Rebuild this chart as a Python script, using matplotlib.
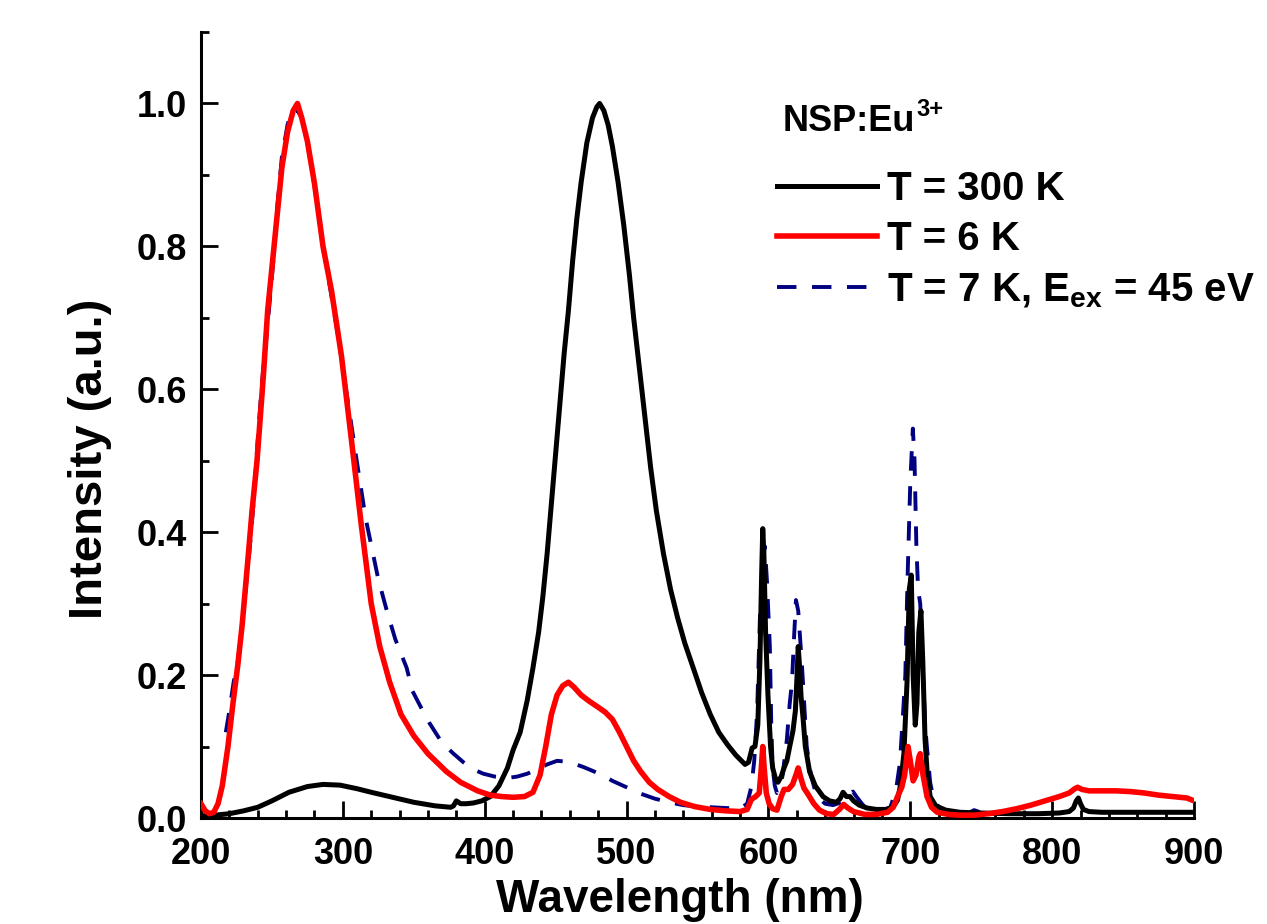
import numpy as np
import matplotlib
matplotlib.use("Agg")
import matplotlib.pyplot as plt
from matplotlib.ticker import MultipleLocator, FormatStrFormatter

plt.rcParams["font.family"] = ["Liberation Sans", "DejaVu Sans"]
plt.rcParams["font.weight"] = "bold"
plt.rcParams["mathtext.fontset"] = "custom"
plt.rcParams["mathtext.rm"] = "Liberation Sans:bold"
plt.rcParams["mathtext.bf"] = "Liberation Sans:bold"
plt.rcParams["mathtext.it"] = "Liberation Sans:bold"
plt.rcParams["mathtext.default"] = "bf"

# T = 300 K
wl_300 = [200, 210, 220, 230, 240, 250, 262, 275, 286, 298, 310, 320, 335, 350, 365, 376,
          378, 380, 383, 387, 392, 398, 404, 410, 416, 420, 425, 430, 434, 438, 441, 444,
          447, 450, 453, 456, 459, 462, 465, 468, 472, 476, 479, 481, 484, 487, 490, 494,
          498, 502, 505, 509, 513, 517, 521, 526, 531, 536, 541, 547, 553, 559, 565, 571,
          577, 583.5, 586, 588.5, 590.5, 592.5, 594, 595.2, 596, 596.8, 598, 599.7, 601.5,
          603, 605, 606.7, 609, 611, 613, 615, 617.3, 619, 620.2, 621, 622, 623, 624.4,
          626, 629, 633, 638.5, 643, 648, 650.5, 652.6, 655, 657.5, 660, 664, 669.5, 676,
          683.6, 688, 691, 693, 695.5, 697.7, 699.3, 700.7, 702, 703.5, 704.7, 706, 707.5,
          708.8, 710.4, 712, 714, 718, 725, 735, 750, 770, 790, 805, 812, 815, 817, 818.5,
          820, 822, 826, 835, 850, 870, 900]
int_300 = [0.003, 0.004, 0.006, 0.010, 0.015, 0.024, 0.036, 0.044, 0.047, 0.046, 0.041,
           0.036, 0.029, 0.022, 0.017, 0.015, 0.017, 0.024, 0.020, 0.020, 0.021, 0.024,
           0.030, 0.045, 0.070, 0.095, 0.12, 0.165, 0.21, 0.26, 0.31, 0.37, 0.44, 0.51,
           0.58, 0.65, 0.71, 0.78, 0.84, 0.89, 0.945, 0.98, 0.995, 1.0, 0.99, 0.97, 0.94,
           0.89, 0.83, 0.76, 0.70, 0.63, 0.56, 0.49, 0.43, 0.37, 0.32, 0.28, 0.245, 0.21,
           0.175, 0.145, 0.12, 0.103, 0.088, 0.075, 0.078, 0.098, 0.10, 0.13, 0.22, 0.34,
           0.405, 0.37, 0.26, 0.17, 0.10, 0.07, 0.055, 0.05, 0.058, 0.07, 0.08, 0.10,
           0.122, 0.15, 0.2, 0.24, 0.21, 0.17, 0.14, 0.1, 0.065, 0.045, 0.03, 0.024, 0.022,
           0.027, 0.036, 0.03, 0.03, 0.024, 0.018, 0.014, 0.012, 0.012, 0.016, 0.025,
           0.045, 0.09, 0.19, 0.32, 0.34, 0.20, 0.13, 0.16, 0.26, 0.29, 0.22, 0.11, 0.06,
           0.03, 0.017, 0.011, 0.008, 0.007, 0.006, 0.006, 0.007, 0.009, 0.014, 0.024,
           0.028, 0.02, 0.012, 0.009, 0.008, 0.008, 0.008, 0.008]

# T = 6 K
wl_6 = [200, 203, 206, 209, 212, 215, 219, 222.5, 226, 229, 233, 236, 239.5, 244, 247, 252,
        257, 261, 265, 268, 271, 275, 280, 286, 292, 299, 306, 313, 320, 326, 333, 341, 350,
        360, 373, 383, 395, 404, 412, 420, 428, 434, 439, 443, 447, 451, 455, 459, 463, 468,
        474, 480, 485, 490, 495, 500, 505, 510, 516, 522, 530, 538, 548, 559, 570, 580, 585,
        588, 591, 593.5, 595, 596, 597, 598.5, 600.5, 603, 606, 609, 611, 614, 617, 619,
        621, 623, 625, 628, 632, 636, 641, 646, 650, 653, 656, 660, 668, 676, 684, 688, 691,
        694, 696, 698.4, 700, 702, 704, 706, 707, 709, 711.8, 715, 719, 727, 735, 745, 755,
        765, 775, 785, 795, 805, 812, 816, 818, 821, 826, 835, 845, 855, 865, 875, 885, 895,
        900]
int_6 = [0.020, 0.010, 0.006, 0.008, 0.02, 0.045, 0.10, 0.16, 0.215, 0.27, 0.36, 0.43,
         0.50, 0.62, 0.71, 0.81, 0.91, 0.96, 0.99, 1.0, 0.98, 0.947, 0.888, 0.80, 0.738,
         0.647, 0.53, 0.41, 0.30, 0.24, 0.19, 0.145, 0.115, 0.09, 0.065, 0.050, 0.038,
         0.032, 0.030, 0.029, 0.030, 0.036, 0.06, 0.10, 0.145, 0.172, 0.185, 0.19, 0.183,
         0.172, 0.163, 0.155, 0.148, 0.138, 0.12, 0.10, 0.08, 0.065, 0.05, 0.04, 0.03,
         0.022, 0.016, 0.012, 0.01, 0.009, 0.012, 0.026, 0.03, 0.035, 0.07, 0.10, 0.07,
         0.035, 0.02, 0.013, 0.011, 0.03, 0.04, 0.04, 0.047, 0.058, 0.07, 0.055, 0.042,
         0.033, 0.02, 0.011, 0.006, 0.005, 0.012, 0.019, 0.014, 0.009, 0.005, 0.005, 0.008,
         0.015, 0.03, 0.043, 0.06, 0.10, 0.08, 0.052, 0.06, 0.085, 0.09, 0.06, 0.03, 0.015,
         0.008, 0.005, 0.004, 0.004, 0.006, 0.009, 0.013, 0.018, 0.024, 0.03, 0.035, 0.041,
         0.043, 0.04, 0.038, 0.038, 0.038, 0.037, 0.035, 0.032, 0.03, 0.028, 0.024]

# T = 7 K, Eex = 45 eV
wl_7 = [217.5, 220, 223, 226, 229, 231, 234, 237, 240, 243, 246.5, 251, 254, 257, 261, 264,
        268, 271, 275, 280, 286, 292, 297, 303, 309, 316, 325, 331, 337, 345, 349, 355, 361,
        370, 378, 385, 392, 399, 407, 416, 423, 430, 437, 444, 451, 457, 463, 470, 476, 483,
        490, 500, 510, 520, 530, 540, 550, 560, 570, 580, 585, 588, 590, 592, 594, 596,
        597.5, 599, 601, 602, 603, 604.5, 606, 608, 610, 613, 615, 616.6, 618, 619.4, 621,
        623.6, 625.5, 627, 630, 634, 640, 645.5, 650, 652.6, 656, 659.6, 662, 666.7, 672,
        678.6, 686, 690, 692.7, 695, 696.5, 698, 700, 701.8, 703, 704.3, 705.5, 707, 709,
        710.5, 711.7, 714, 716, 720, 727, 735, 742, 745, 748, 750]
int_7 = [0.12, 0.15, 0.19, 0.22, 0.27, 0.31, 0.37, 0.44, 0.53, 0.61, 0.68, 0.78, 0.86,
         0.925, 0.97, 0.99, 0.99, 0.98, 0.945, 0.885, 0.80, 0.73, 0.67, 0.59, 0.51, 0.42,
         0.334, 0.29, 0.25, 0.21, 0.178, 0.155, 0.133, 0.105, 0.09, 0.078, 0.068, 0.062,
         0.058, 0.056, 0.058, 0.062, 0.068, 0.075, 0.08, 0.079, 0.076, 0.071, 0.066, 0.06,
         0.052, 0.043, 0.034, 0.027, 0.022, 0.018, 0.016, 0.015, 0.014, 0.013, 0.02, 0.044,
         0.08, 0.147, 0.28, 0.36, 0.38, 0.33, 0.24, 0.13, 0.07, 0.045, 0.035, 0.04, 0.06,
         0.11, 0.16, 0.19, 0.25, 0.305, 0.29, 0.215, 0.15, 0.1, 0.06, 0.03, 0.02, 0.018,
         0.021, 0.025, 0.03, 0.037, 0.03, 0.018, 0.012, 0.01, 0.015, 0.04, 0.077, 0.15, 0.2,
         0.33, 0.47, 0.545, 0.5, 0.38, 0.32, 0.3, 0.2, 0.13, 0.1, 0.05, 0.03, 0.015, 0.008,
         0.006, 0.008, 0.011, 0.009, 0.005]

labels = ["T = 300 K", "T = 6 K", "T = 7 K, E$_{ex}$ = 45 eV"]

fig = plt.figure(figsize=(12.67, 9.24), dpi=100)
ax = fig.add_axes([201 / 1267, 106 / 924, 993 / 1267, 786 / 924])

ax.plot(wl_7, int_7, color="#000080", lw=2.8, dashes=(5, 4), label=labels[2], zorder=2)
ax.plot(wl_300, int_300, color="black", lw=3.6, label=labels[0], zorder=3)
ax.plot(wl_6, int_6, color="#ff0000", lw=4, label=labels[1], zorder=4)

ax.set_xlim(200, 900)
ax.set_ylim(0, 1.1)
ax.xaxis.set_major_locator(MultipleLocator(100))
ax.xaxis.set_minor_locator(MultipleLocator(20))
ax.yaxis.set_major_locator(MultipleLocator(0.2))
ax.yaxis.set_minor_locator(MultipleLocator(0.1))
ax.yaxis.set_major_formatter(FormatStrFormatter("%.1f"))
ax.tick_params(which="both", direction="in", width=2, labelsize=26)
ax.tick_params(axis="x", which="both", pad=14)
ax.tick_params(axis="y", which="both", pad=10)
ax.tick_params(which="major", length=12)
ax.tick_params(which="minor", length=6)
for s in ["top", "right"]:
    ax.spines[s].set_visible(False)
for s in ["left", "bottom"]:
    ax.spines[s].set_linewidth(2.2)

ax.set_xlabel("Wavelength (nm)", fontsize=33, fontweight="bold", va="baseline")
ax.xaxis.set_label_coords(0.482, -0.12)
ax.set_ylabel("Intensity (a.u.)", fontsize=34, fontweight="bold", va="center", ha="center")
ax.yaxis.set_label_coords(-0.112, 0.457)

# legend title with a plain superscript
t = ax.text(783 / 1267, 1 - 131 / 924, "NSP:Eu", transform=fig.transFigure,
            fontsize=26, fontweight="bold", va="baseline", ha="left")
ax.annotate("3+", xy=(1, 1), xycoords=t, xytext=(1, 4), textcoords="offset points",
            fontsize=17, fontweight="bold", va="top", ha="left")

h, l = ax.get_legend_handles_labels()
order = [1, 2, 0]
ax.legend([h[i] for i in order], [l[i] for i in order],
          loc="upper left", bbox_to_anchor=(777 / 1267, 1 - 170 / 924),
          bbox_transform=fig.transFigure, frameon=False,
          prop={"weight": "bold", "size": 29}, handlelength=2.48,
          handletextpad=0.25, labelspacing=0.31, borderpad=0, borderaxespad=0)

fig.savefig("out.png", dpi=100)
